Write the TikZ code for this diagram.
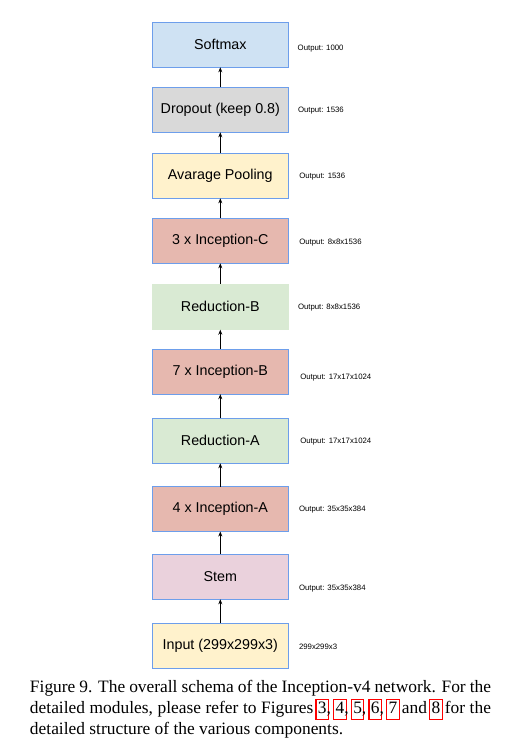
\documentclass[tikz,border=0pt]{standalone}
\usepackage{fontspec}
\setmainfont{Liberation Serif}
\newfontfamily\arial{Liberation Sans}
\usetikzlibrary{arrows.meta}

\definecolor{edgeblue}{HTML}{6D9EEB}
\definecolor{softblue}{HTML}{CFE2F3}
\definecolor{dropgray}{HTML}{D9D9D9}
\definecolor{poolyellow}{HTML}{FFF2CC}
\definecolor{incred}{HTML}{E6B8AF}
\definecolor{redgreen}{HTML}{D9EAD3}
\definecolor{stempink}{HTML}{EAD1DC}

\newcommand\figbox[1]{{\setlength\fboxsep{1.3pt}\setlength\fboxrule{1.2pt}\kern-2.5pt\textcolor{red}{\fbox{\color{black}\vphantom{(}#1}}\kern-2.5pt}}

\begin{document}
\begin{tikzpicture}[x=1pt, y=-1pt,
  every node/.style={outer sep=0pt, inner sep=0pt},
  layer/.style={draw=edgeblue, line width=0.9pt, minimum width=136pt, minimum height=45pt, font=\arial\fontsize{14.3}{16}\selectfont},
  bare/.style={minimum width=137pt, minimum height=46pt, font=\arial\fontsize{14.3}{16}\selectfont},
  outlabel/.style={anchor=west, font=\arial\fontsize{7.8}{9}\selectfont},
  flow/.style={-{Stealth[length=5pt,width=4pt]}, line width=0.8pt}]
\useasboundingbox (0,0) rectangle (512,745);

% layers, top to bottom
\node[layer, fill=softblue] (softmax) at (220.3,44.8) {Softmax};
\node[layer, fill=dropgray] (dropout) at (220.3,109.8) {Dropout (keep 0.8)};
\node[layer, fill=poolyellow] (pool) at (220.3,175.8) {Avarage Pooling};
\node[layer, fill=incred] (incc) at (220.3,240.8) {3 x Inception-C};
\node[bare, fill=redgreen] (redb) at (220.3,306.7) {Reduction-B};
\node[layer, fill=incred] (incb) at (220.3,371.7) {7 x Inception-B};
\node[layer, fill=redgreen] (reda) at (220.3,440.8) {Reduction-A};
\node[layer, fill=incred] (inca) at (220.3,509.0) {4 x Inception-A};
\node[layer, fill=stempink] (stem) at (220.3,576.8) {Stem};
\node[layer, fill=poolyellow] (input) at (220.3,645.8) {Input (299x299x3)};

% output sizes
\node[outlabel] (osoftmax) at (297.7,49) {Output: 1000};
\node[outlabel] (odropout) at (298,110.7) {Output: 1536};
\node[outlabel] (opool) at (299.3,176.7) {Output: 1536};
\node[outlabel] (oincc) at (299.3,242.3) {Output: 8x8x1536};
\node[outlabel] (oredb) at (298,308) {Output: 8x8x1536};
\node[outlabel] (oincb) at (300.3,377.7) {Output: 17x17x1024};
\node[outlabel] (oreda) at (300.3,442) {Output: 17x17x1024};
\node[outlabel] (oinca) at (299,510) {Output: 35x35x384};
\node[outlabel] (ostem) at (299,588.3) {Output: 35x35x384};
\node[outlabel] (oinput) at (299,647.3) {299x299x3};

\draw[flow] (input) -- (stem);
\draw[flow] (stem) -- (inca);
\draw[flow] (inca) -- (reda);
\draw[flow] (reda) -- (incb);
\draw[flow] (incb) -- (redb);
\draw[flow] (redb) -- (incc);
\draw[flow] (incc) -- (pool);
\draw[flow] (pool) -- (dropout);
\draw[flow] (dropout) -- (softmax);

% caption
\node[anchor=north west, text width=461pt, align=justify, font=\fontsize{17.4}{20.8}\selectfont] (caption) at (30,680.5)
  {Figure 9. The overall schema of the Inception-v4 network. For the\linebreak
   detailed modules, please refer to Figures \figbox{3}, \figbox{4}, \figbox{5}, \figbox{6}, \figbox{7} and \figbox{8} for the\linebreak
   detailed structure of the various components.};
\end{tikzpicture}
\end{document}
